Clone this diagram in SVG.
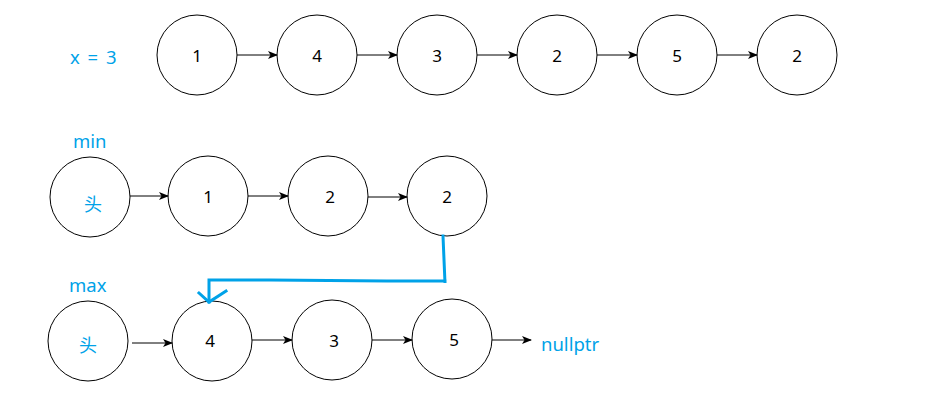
<svg xmlns="http://www.w3.org/2000/svg" width="941" height="401" viewBox="0 0 941 401">
<defs>
<marker id="ah" markerWidth="10" markerHeight="8" refX="9" refY="4" orient="auto" markerUnits="userSpaceOnUse">
<path d="M0,0 L10,4 L0,8 L2.5,4 Z" fill="#000"/>
</marker>
<style>
.n circle{fill:#fff;stroke:#000;stroke-width:1}
.t{font-family:"Noto Sans","Noto Sans CJK SC",sans-serif;font-size:17px;fill:#000;text-anchor:middle;dominant-baseline:central}
.b{font-family:"Noto Sans","Noto Sans CJK SC",sans-serif;font-size:18.5px;fill:#00a2e8}
.h{font-family:"Noto Sans CJK SC","Noto Sans",sans-serif;font-size:18px;fill:#00a2e8;text-anchor:middle;dominant-baseline:central}
.c line{stroke:#000;stroke-width:1;marker-end:url(#ah)}
.bl{stroke:#00a2e8;stroke-width:3;fill:none;stroke-linecap:square}
</style>
</defs>
<rect width="941" height="401" fill="#fff"/>
<text class="b" x="70" y="64" word-spacing="3">x = 3</text>
<text class="b" x="73" y="148">min</text>
<text class="b" x="69" y="292">max</text>
<text class="b" x="541" y="351">nullptr</text>

<g id="r1n1" class="n"><circle cx="197" cy="55" r="40"/><text class="t" x="197" y="55">1</text></g>
<g id="r1n2" class="n"><circle cx="317" cy="55" r="40"/><text class="t" x="317" y="55">4</text></g>
<g id="r1n3" class="n"><circle cx="437" cy="55" r="40"/><text class="t" x="437" y="55">3</text></g>
<g id="r1n4" class="n"><circle cx="557" cy="55" r="40"/><text class="t" x="557" y="55">2</text></g>
<g id="r1n5" class="n"><circle cx="677" cy="55" r="40"/><text class="t" x="677" y="55">5</text></g>
<g id="r1n6" class="n"><circle cx="797" cy="55" r="40"/><text class="t" x="797" y="55">2</text></g>

<g id="minHead" class="n"><circle cx="90" cy="197" r="40"/><text class="h" x="93" y="203">头</text></g>
<g id="min1" class="n"><circle cx="208" cy="196" r="40"/><text class="t" x="208" y="196">1</text></g>
<g id="min2" class="n"><circle cx="328" cy="196" r="40"/><text class="t" x="330" y="196">2</text></g>
<g id="min3" class="n"><circle cx="447" cy="196" r="40"/><text class="t" x="447" y="196">2</text></g>

<g id="maxHead" class="n"><circle cx="88" cy="341" r="40"/><text class="h" x="88" y="344">头</text></g>
<g id="max1" class="n"><circle cx="212" cy="341" r="40"/><text class="t" x="210" y="340">4</text></g>
<g id="max2" class="n"><circle cx="332" cy="340" r="40"/><text class="t" x="334" y="340">3</text></g>
<g id="max3" class="n"><circle cx="452" cy="339" r="40"/><text class="t" x="454" y="339">5</text></g>

<g id="connectors" class="c">
<line x1="237" y1="55" x2="277" y2="55"/>
<line x1="357" y1="55" x2="397" y2="55"/>
<line x1="477" y1="55" x2="517" y2="55"/>
<line x1="597" y1="55" x2="637" y2="55"/>
<line x1="717" y1="55" x2="757" y2="55"/>
<line x1="130" y1="196" x2="168" y2="196"/>
<line x1="248" y1="196" x2="288" y2="196"/>
<line x1="368" y1="197" x2="407" y2="197"/>
<line x1="132" y1="343" x2="172" y2="343"/>
<line x1="252" y1="340" x2="292" y2="340"/>
<line x1="372" y1="340" x2="412" y2="340"/>
<line x1="492" y1="340" x2="531" y2="340"/>
<path class="bl" d="M443,236 L445,283 L445,281 L387,281 L270,280 L209,280 L209,302"/>
<path class="bl" d="M199,293 L209,302 L226,291"/>
</g>
</svg>
